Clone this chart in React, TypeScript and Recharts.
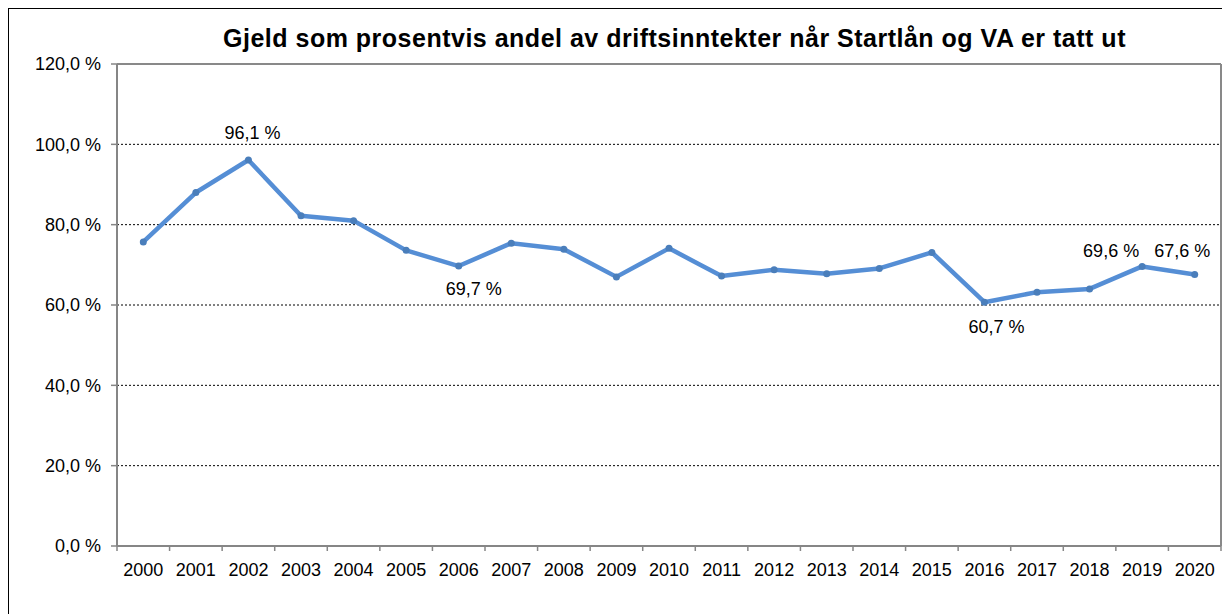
import React from 'react';
import {
  LineChart,
  Line,
  XAxis,
  YAxis,
  CartesianGrid,
  ReferenceLine,
  LabelList,
} from 'recharts';

// ---- data ----
const years = [
  2000, 2001, 2002, 2003, 2004, 2005, 2006, 2007, 2008, 2009, 2010,
  2011, 2012, 2013, 2014, 2015, 2016, 2017, 2018, 2019, 2020,
];
const debtShare = [
  75.7, 88.0, 96.1, 82.2, 81.0, 73.6, 69.7, 75.4, 73.9, 67.0, 74.1,
  67.2, 68.8, 67.8, 69.1, 73.1, 60.7, 63.2, 64.0, 69.6, 67.6,
];
const yTicks = [0, 20, 40, 60, 80, 100, 120];
const labelledYears = [2002, 2006, 2016, 2019, 2020];
const title = 'Gjeld som prosentvis andel av driftsinntekter når Startlån og VA er tatt ut';

// ---- style (label placement offsets, px) ----
const labelOffsets: Record<number, { dx: number; dy: number }> = {
  2002: { dx: 4, dy: -21 },
  2006: { dx: 15, dy: 29 },
  2016: { dx: 12, dy: 31 },
  2019: { dx: -31, dy: -9.5 },
  2020: { dx: -12.5, dy: -17 },
};

const FONT = '"Liberation Sans", Arial, sans-serif';
const LINE_COLOR = '#558ED5';
const DOT_COLOR = '#4A7EBB';
const AXIS_COLOR = '#868686';

const data = years.map((y, i) => ({ year: y, value: debtShare[i] }));
const xTicks: number[] = [];
years.forEach((y, i) => {
  xTicks.push(y - 0.5);
  xTicks.push(y);
  if (i === years.length - 1) xTicks.push(y + 0.5);
});

const fmt = (v: number) => v.toFixed(1).replace('.', ',') + ' %';

const XTick = (props: any) => {
  const { x, y, payload } = props;
  const v = payload.value as number;
  if (Number.isInteger(v)) {
    return (
      <text x={x} y={y + 30} textAnchor="middle" fill="#000" fontSize={18} fontFamily={FONT}>
        {v}
      </text>
    );
  }
  return <line x1={x} y1={y} x2={x} y2={y + 5} stroke={AXIS_COLOR} strokeWidth={1.5} />;
};

const DataLabel = (props: any) => {
  const { x, y, index } = props;
  const yr = years[index];
  if (!labelledYears.includes(yr)) return null;
  const off = labelOffsets[yr] || { dx: 0, dy: -15 };
  return (
    <text
      x={x + off.dx}
      y={y + off.dy}
      textAnchor="middle"
      fill="#000"
      fontSize={18}
      fontFamily={FONT}
    >
      {fmt(debtShare[index])}
    </text>
  );
};

export default function App() {
  return (
    <div
      style={{
        position: 'fixed',
        left: 8,
        top: 8,
        width: 1214,
        height: 606,
        overflow: 'hidden',
        borderLeft: '1px solid #000',
        borderTop: '1px solid #000',
        boxSizing: 'border-box',
        background: '#fff',
      }}
    >
      <div
        style={{
          position: 'absolute',
          left: 665.5,
          top: 17,
          transform: 'translateX(-50%)',
          whiteSpace: 'nowrap',
          fontFamily: FONT,
          fontWeight: 'bold',
          fontSize: 25,
          letterSpacing: 0.5,
          lineHeight: '25px',
          color: '#000',
        }}
      >
        {title}
      </div>
      <LineChart
        width={1213}
        height={605}
        data={data}
        margin={{ top: 55, right: 1, bottom: 38, left: 0 }}
      >
        <CartesianGrid
          vertical={false}
          stroke="#000"
          strokeDasharray="2 2"
          horizontalValues={[20, 40, 60, 80, 100]}
        />
        <XAxis
          dataKey="year"
          type="number"
          domain={[years[0] - 0.5, years[years.length - 1] + 0.5]}
          ticks={xTicks}
          interval={0}
          tickLine={false}
          tickSize={0}
          tickMargin={0}
          height={30}
          axisLine={{ stroke: AXIS_COLOR, strokeWidth: 2 }}
          tick={<XTick />}
        />
        <YAxis
          type="number"
          domain={[0, 120]}
          ticks={yTicks}
          interval={0}
          width={108}
          tickSize={6}
          tickMargin={10}
          tickFormatter={fmt}
          tickLine={{ stroke: AXIS_COLOR, strokeWidth: 1.5 }}
          axisLine={{ stroke: AXIS_COLOR, strokeWidth: 2 }}
          tick={{ fill: '#000', fontSize: 18, fontFamily: FONT }}
        />
        <ReferenceLine y={120} stroke="#898989" strokeWidth={2} />
        <ReferenceLine x={years[years.length - 1] + 0.5} stroke="#898989" strokeWidth={2} />
        <Line
          type="linear"
          dataKey="value"
          stroke={LINE_COLOR}
          strokeWidth={4.5}
          strokeLinejoin="round"
          dot={{ r: 3.5, fill: DOT_COLOR, stroke: DOT_COLOR, strokeWidth: 0 }}
          activeDot={false}
          isAnimationActive={false}
        >
          <LabelList dataKey="value" content={<DataLabel />} />
        </Line>
      </LineChart>
    </div>
  );
}
